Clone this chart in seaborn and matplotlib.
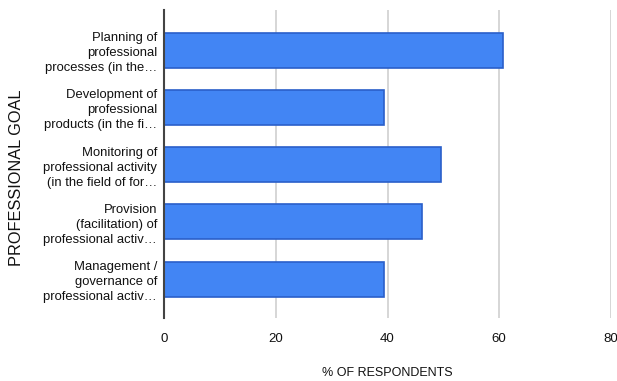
import matplotlib
matplotlib.use("Agg")
import matplotlib.pyplot as plt
import seaborn as sns
import pandas as pd

goals = [
    "Planning of\nprofessional\nprocesses (in the…",
    "Development of\nprofessional\nproducts (in the fi…",
    "Monitoring of\nprofessional activity\n(in the field of for…",
    "Provision\n(facilitation) of\nprofessional activ…",
    "Management /\ngovernance of\nprofessional activ…",
]
respondents_pct = [60.7, 39.3, 49.6, 46.1, 39.3]
x_ticks = [0, 20, 40, 60, 80]

df = pd.DataFrame({"goal": goals, "pct": respondents_pct})

sns.set_style("white")
plt.rcParams["font.family"] = ["Liberation Sans", "DejaVu Sans"]

fig = plt.figure(figsize=(6.17, 3.81), dpi=100)
ax = fig.add_axes([164 / 617, 1 - 318 / 381, (611 - 164) / 617, (318 - 10) / 381])

sns.barplot(data=df, x="pct", y="goal", orient="h", color="#4285F4",
            saturation=1, width=0.61, edgecolor="#2a5fc9", linewidth=1.2, ax=ax)

ax.set_xlim(0, 80)
ax.set_ylim(4.68, -0.7)
ax.set_xticks(x_ticks)
ax.set_xticklabels([str(t) for t in x_ticks], fontsize=9.5, color="#111111")
ax.tick_params(axis="x", length=0, pad=11)
ax.tick_params(axis="y", length=0, pad=5)
for lbl in ax.get_yticklabels():
    lbl.set_fontsize(9.4)
    lbl.set_color("#111111")
    lbl.set_linespacing(1.33)
    lbl.set_horizontalalignment("right")

ax.grid(axis="x", color="#d0d0d0", linewidth=1.2)
ax.set_axisbelow(True)
for side in ["top", "right", "bottom"]:
    ax.spines[side].set_visible(False)
ax.spines["left"].set_color("#444444")
ax.spines["left"].set_linewidth(1.5)

ax.set_xlabel("")
ax.set_ylabel("")
fig.text(387 / 617, 1 - 373 / 381, "% OF RESPONDENTS", ha="center", va="center",
         fontsize=9, color="#111111")
fig.text(17 / 617, 1 - 178 / 381, "PROFESSIONAL GOAL", rotation=90,
         ha="center", va="center", fontsize=11.8, color="#111111")

fig.savefig("out.png", dpi=100, facecolor="white")
